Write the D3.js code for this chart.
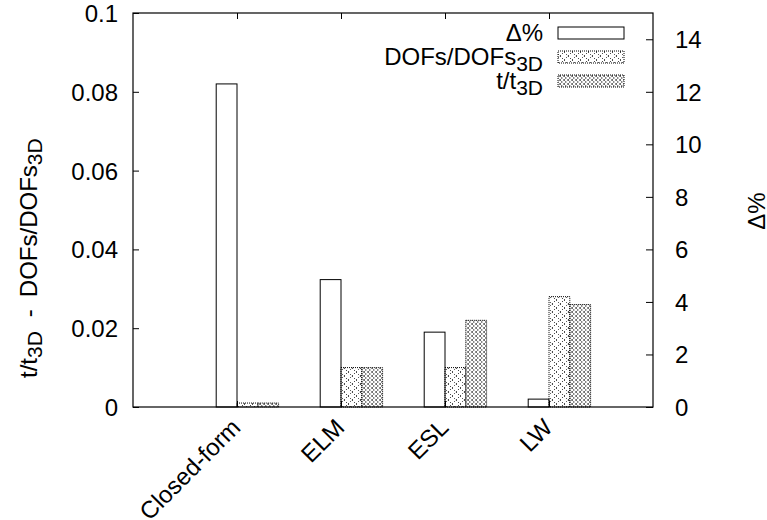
<!DOCTYPE html>
<html><head><meta charset="utf-8">
<script src="https://cdn.jsdelivr.net/npm/d3@7/dist/d3.min.js"></script>
<style>body{margin:0;background:#fff}svg{display:block}text{font-family:"Liberation Sans",Arial,sans-serif;fill:#000;white-space:pre}</style>
</head><body><svg id="c" width="767" height="520"></svg>
<script>
const categories = ["Closed-form", "ELM", "ESL", "LW"];
const deltaPct = [12.3, 4.85, 2.85, 0.3];
const dofsRatio = [0.001, 0.01, 0.01, 0.028];
const timeRatio = [0.001, 0.01, 0.022, 0.026];
const leftTicks = [0, 0.02, 0.04, 0.06, 0.08, 0.1];
const rightTicks = [0, 2, 4, 6, 8, 10, 12, 14];

const svg = d3.select("#c");
const L = 133, R = 653, T = 13, B = 407;
const x = d3.scaleLinear().domain([-1, 4]).range([L, R]);
const yL = d3.scaleLinear().domain([0, 0.1]).range([B, T]);
const yR = d3.scaleLinear().domain([0, 15]).range([B, T]);
const bw = 0.2;
const FS = "24px", SS = "21px";

const defs = svg.append("defs");
const p1 = defs.append("pattern").attr("id","pDofs").attr("patternUnits","userSpaceOnUse").attr("width",8).attr("height",8);
p1.append("path").attr("d","M0,0L8,8M0,8L8,0").attr("stroke","#000").attr("stroke-width",1).attr("stroke-dasharray","1,2").attr("fill","none");
const p2 = defs.append("pattern").attr("id","pTime").attr("patternUnits","userSpaceOnUse").attr("width",4).attr("height",4);
p2.append("path").attr("d","M0,0L4,4M0,4L4,0").attr("stroke","#000").attr("stroke-width",0.8).attr("stroke-dasharray","1,1").attr("fill","none");

const g = svg.append("g");
const idx = categories.map((c,i)=>i);
g.selectAll(".bd").data(idx).enter().append("rect")
  .attr("x", i=>x(i-bw)).attr("width", x(bw)-x(0))
  .attr("y", i=>yR(deltaPct[i])).attr("height", i=>B-yR(deltaPct[i]))
  .attr("fill","#fff").attr("stroke","#000").attr("stroke-width",1);
g.selectAll(".bo").data(idx).enter().append("rect")
  .attr("x", i=>x(i)).attr("width", x(bw)-x(0))
  .attr("y", i=>yL(dofsRatio[i])).attr("height", i=>B-yL(dofsRatio[i]))
  .attr("fill","url(#pDofs)").attr("stroke","#000").attr("stroke-width",1).attr("stroke-dasharray","1,1");
g.selectAll(".bt").data(idx).enter().append("rect")
  .attr("x", i=>x(i+bw)).attr("width", x(bw)-x(0))
  .attr("y", i=>yL(timeRatio[i])).attr("height", i=>B-yL(timeRatio[i]))
  .attr("fill","url(#pTime)").attr("stroke","#000").attr("stroke-width",1).attr("stroke-dasharray","1,1");

const axL = svg.append("g").attr("transform",`translate(${L},0)`)
  .call(d3.axisRight(yL).tickValues(leftTicks).tickSize(6).tickFormat(d3.format("~g")));
axL.select(".domain").remove();
axL.selectAll("text").attr("x",-15).attr("dy","0.35em").attr("text-anchor","end").style("font-size",FS).style("font-family","Liberation Sans, Arial, sans-serif");
const axR = svg.append("g").attr("transform",`translate(${R},0)`)
  .call(d3.axisLeft(yR).tickValues(rightTicks).tickSize(7));
axR.select(".domain").remove();
axR.selectAll("text").attr("x",22).attr("dy","0.35em").attr("text-anchor","start").style("font-size",FS).style("font-family","Liberation Sans, Arial, sans-serif");
const axT = svg.append("g").attr("transform",`translate(0,${T})`)
  .call(d3.axisBottom(x).tickValues(idx).tickSize(6).tickFormat(""));
axT.select(".domain").remove();
const axB = svg.append("g").attr("transform",`translate(0,${B})`)
  .call(d3.axisTop(x).tickValues(idx).tickSize(6).tickFormat(""));
axB.select(".domain").remove();
svg.selectAll(".tick line").attr("stroke","#000");

svg.append("rect").attr("x",L).attr("y",T).attr("width",R-L).attr("height",B-T)
  .attr("fill","none").attr("stroke","#000").attr("stroke-width",1.2);

svg.selectAll(".cl").data(idx).enter().append("text")
  .attr("transform", i=>`translate(${x(i)+5},${B+22}) rotate(-45)`)
  .attr("text-anchor","end").style("font-size",FS).text(i=>categories[i]);

const lt = svg.append("text").attr("transform","translate(37,378) rotate(-90)").attr("text-anchor","start").style("font-size",FS);
lt.append("tspan").text("t/t");
lt.append("tspan").attr("dy",5).style("font-size",SS).text("3D");
lt.append("tspan").attr("dy",-5).attr("dx",14).text("-");
lt.append("tspan").attr("dx",12).text("DOFs/DOFs");
lt.append("tspan").attr("dy",5).style("font-size",SS).text("3D");
svg.append("text").attr("transform","translate(765,211) rotate(-90)").attr("text-anchor","middle").style("font-size",FS).text("Δ%");

const leg = [{t:"Δ%",sub:null,fill:"#fff",dash:null},{t:"DOFs/DOFs",sub:"3D",fill:"url(#pDofs)",dash:"1,1"},{t:"t/t",sub:"3D",fill:"url(#pTime)",dash:"1,1"}];
leg.forEach((d,i)=>{
  const cy = 33 + i*24;
  const tx = svg.append("text").attr("x",543).attr("y",cy+8).attr("text-anchor","end").style("font-size",FS);
  tx.append("tspan").text(d.t);
  if (d.sub) tx.append("tspan").attr("dy",6).style("font-size",SS).text(d.sub);
  svg.append("rect").attr("x",558).attr("y",cy-6).attr("width",66).attr("height",12)
    .attr("fill",d.fill).attr("stroke","#000").attr("stroke-width",1).attr("stroke-dasharray",d.dash);
});
</script></body></html>
